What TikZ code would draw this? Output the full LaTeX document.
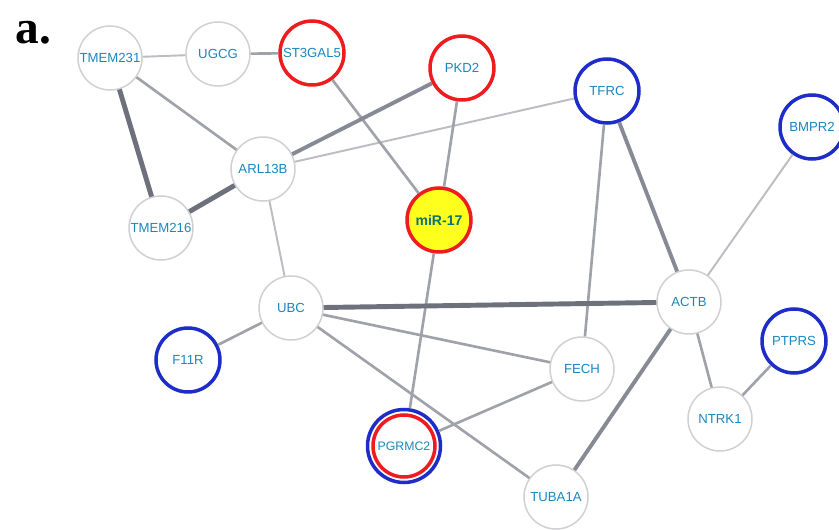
\documentclass[tikz,border=0pt]{standalone}
\usepackage{fontspec}
\setmainfont{Liberation Serif}
\setsansfont{Liberation Sans}
\usetikzlibrary{positioning}
\definecolor{lbl}{RGB}{25,135,190}
\definecolor{mirtext}{RGB}{10,115,110}
\definecolor{ringgray}{RGB}{208,208,210}
\definecolor{ringred}{RGB}{238,28,30}
\definecolor{ringblue}{RGB}{30,45,200}
\definecolor{mirfill}{RGB}{255,255,30}
\definecolor{edgelite}{RGB}{188,188,194}
\definecolor{edgemid}{RGB}{160,162,170}
\definecolor{edgefirm}{RGB}{134,138,148}
\definecolor{edgestrong}{RGB}{108,113,124}
\tikzset{
every picture/.style={
line width=1pt
}}
\tikzset{
  gene/.style={circle, draw=ringgray, line width=0.85pt, fill=white,
    minimum size=1.28cm, inner sep=0pt, text=lbl,
    font=\sffamily\fontsize{7.5}{9}\selectfont},
  hitred/.style={gene, draw=ringred, line width=2pt},
  hitblue/.style={gene, draw=ringblue, line width=2pt},
  lite/.style={draw=edgelite, line width=1.1pt},
  mid/.style={draw=edgemid, line width=1.5pt},
  firm/.style={draw=edgefirm, line width=2.2pt},
  strong/.style={draw=edgestrong, line width=2.8pt}
}

\begin{document}
\begin{tikzpicture}[x=0.02cm, y=-0.02cm]
  \useasboundingbox (0,0) rectangle (839,530);

  \node [anchor=base west, font=\rmfamily\bfseries\fontsize{27}{27}\selectfont] (tag) at (9,44) {a.};

  % plain genes
  \foreach \n/\x/\y/\l in {tmem231/110/58/TMEM231, ugcg/218/54/UGCG,
      arl13b/263/169/ARL13B, tmem216/161/228/TMEM216, ubc/291/308/UBC,
      actb/689/302/ACTB, fech/582/369/FECH, ntrk1/720/419/NTRK1,
      tuba1a/556/497/TUBA1A} {
    \node [gene] (\n) at (\x, \y) {\l};
  }
  \foreach \n/\x/\y/\l in {st3gal5/312/53/ST3GAL5, pkd2/462/68/PKD2} {
    \node [hitred] (\n) at (\x, \y) {\l};
  }
  \foreach \n/\x/\y/\l in {tfrc/607/91/TFRC, bmpr2/812/127/BMPR2,
      f11r/188/360/F11R, ptprs/794/341/PTPRS} {
    \node [hitblue] (\n) at (\x, \y) {\l};
  }
  \node [hitred, fill=mirfill, text=mirtext, font=\sffamily\bfseries\fontsize{8}{9}\selectfont] (mir17) at (439,220) {miR-17};
  \node [hitblue, minimum size=1.46cm, font=\sffamily\fontsize{7}{9}\selectfont] (pgrmc2) at (404,446) {PGRMC2};
  \draw [ringred, line width=2pt] (pgrmc2.center) circle [radius=0.62cm];

  % interactions
  \foreach \a/\b in {tmem231/ugcg, tfrc/arl13b, bmpr2/actb, arl13b/ubc}
    \draw [lite] (\a) -- (\b);
  \foreach \a/\b in {ugcg/st3gal5, tmem231/arl13b, st3gal5/mir17, pkd2/mir17,
      tfrc/fech, mir17/pgrmc2, ubc/f11r, ubc/fech, ubc/tuba1a, fech/pgrmc2,
      actb/ntrk1, ntrk1/ptprs}
    \draw [mid] (\a) -- (\b);
  \foreach \a/\b in {pkd2/arl13b, tfrc/actb, actb/tuba1a}
    \draw [firm] (\a) -- (\b);
  \foreach \a/\b in {tmem231/tmem216, tmem216/arl13b, ubc/actb}
    \draw [strong] (\a) -- (\b);
\end{tikzpicture}
\end{document}
